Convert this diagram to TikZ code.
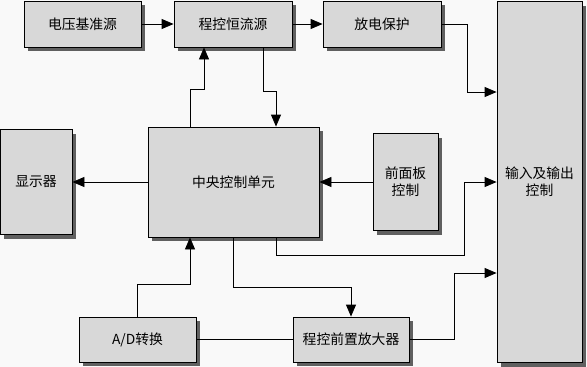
\documentclass[tikz,border=0pt]{standalone}
\usepackage{fontspec}
\newfontfamily\cjk{Noto Sans CJK SC}
\usetikzlibrary{arrows.meta,shadows}
\definecolor{fond}{RGB}{249,249,249}
\definecolor{boite}{RGB}{216,216,216}
\definecolor{ombre}{RGB}{96,96,96}
\tikzset{
  bloc/.style={draw=black, line width=0.8pt, fill=boite, inner sep=0pt,
    align=center, font=\cjk\fontsize{13.8}{17}\selectfont,
    drop shadow={shadow xshift=4pt, shadow yshift=-4pt, fill=ombre, opacity=1}},
  fleche/.style={line width=0.8pt, -{Triangle[length=12pt,width=10pt]}},
  lien/.style={line width=0.8pt}
}
\begin{document}
\begin{tikzpicture}[x=1pt,y=-1pt]
  % Fond
  \fill[fond] (0,0) rectangle (587,367);
  \useasboundingbox (0,0) rectangle (587,367);
  % Ligne du haut
  \node[bloc, minimum width=117pt, minimum height=46pt] (vref) at (82.5,24) {电压基准源};
  \node[bloc, minimum width=118pt, minimum height=46pt] (ccs) at (233,24) {程控恒流源};
  \node[bloc, minimum width=118pt, minimum height=46pt] (dis) at (382,24) {放电保护};
  % Bloc d'entr\'ee/sortie (grand rectangle \`a droite)
  \node[bloc, minimum width=85pt, minimum height=361pt] (io) at (539.5,182) {输入及输出\\控制};
  % Ligne du milieu
  \node[bloc, minimum width=72pt, minimum height=105pt] (disp) at (36,182) {显示器};
  \node[bloc, minimum width=171pt, minimum height=110pt] (cpu) at (233.5,182) {中央控制单元};
  \node[bloc, minimum width=65pt, minimum height=97pt] (fp) at (405.5,182) {前面板\\控制};
  % Ligne du bas
  \node[bloc, minimum width=117pt, minimum height=45pt] (ad) at (137.5,339.5) {A/D转换};
  \node[bloc, minimum width=116pt, minimum height=45pt] (amp) at (351,339.5) {程控前置放大器};
  % Liaisons du haut
  \draw[fleche] (vref.east) -- (ccs.west);
  \draw[fleche] (ccs.east) -- (dis.west);
  \draw[fleche] (dis.east) -- ++(26,0) |- ([yshift=90pt]io.west);
  \draw[fleche] ([xshift=-43.5pt]cpu.north) -- ++(0,-37) -| ([xshift=-29pt]ccs.south);
  \draw[fleche] ([xshift=30pt]ccs.south) -- ++(0,44) -| ([xshift=42.5pt]cpu.north);
  % Liaisons du milieu
  \draw[fleche] (cpu.west) -- (disp.east);
  \draw[fleche] (fp.west) -- (cpu.east);
  \draw[fleche] ([xshift=42.5pt]cpu.south) -- ++(0,18) -- ++(188,0) |- (io.west);
  % Liaisons du bas
  \draw[fleche] (ad.north) -- ++(0,-32) -| ([xshift=-43.5pt]cpu.south);
  \draw[fleche] (cpu.south) -- ++(0,50) -| (amp.north);
  \draw[lien] (ad.east) -- (amp.west);
  \draw[fleche] (amp.east) -- ++(45,0) |- ([yshift=-91pt]io.west);
\end{tikzpicture}
\end{document}
